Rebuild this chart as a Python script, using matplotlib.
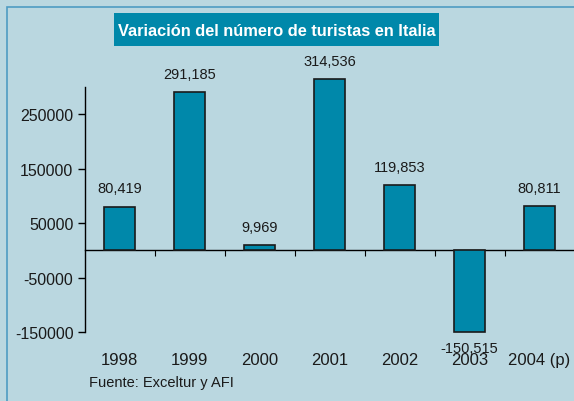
import numpy as np
import matplotlib.pyplot as plt
from matplotlib.patches import Rectangle

# Datos: variación anual del número de turistas
years = ['1998', '1999', '2000', '2001', '2002', '2003', '2004 (p)']
variation = [80419, 291185, 9969, 314536, 119853, -150515, 80811]
value_labels = ['80,419', '291,185', '9,969', '314,536', '119,853', '-150,515', '80,811']
yticks = [250000, 150000, 50000, -50000, -150000]

bg = '#BAD7E0'
bar_color = '#0088AA'

plt.rcParams['font.family'] = ['Liberation Sans', 'DejaVu Sans']

fig = plt.figure(figsize=(5.74, 4.02), dpi=100, facecolor=bg)
fig.patches.append(Rectangle((7 / 574, -0.1), 1.2, 1 - 8 / 402 + 0.1,
                             transform=fig.transFigure, fill=False,
                             edgecolor='#4F9CC2', linewidth=1.2))

ax = fig.add_axes([84.5 / 574, 1 - 333 / 402, 490 / 574, (333 - 88) / 402])
ax.set_facecolor('none')

x = np.arange(len(years))
ax.bar(x, variation, width=0.43, color=bar_color, edgecolor='#1a1a1a',
       linewidth=1.2, clip_on=False, zorder=3)

for xi, v, lab in zip(x, variation, value_labels):
    if v >= 0:
        ax.annotate(lab, (xi, v), xytext=(0, 8), textcoords='offset points',
                    ha='center', va='bottom', fontsize=10.5, color='#1a1a1a',
                    annotation_clip=False)
    else:
        ax.annotate(lab, (xi, v), xytext=(0, -6), textcoords='offset points',
                    ha='center', va='top', fontsize=10.5, color='#1a1a1a',
                    annotation_clip=False)

ax.set_xlim(-0.5, len(years) - 0.5)
ax.set_ylim(-150000, 300000)

for s in ['top', 'right']:
    ax.spines[s].set_visible(False)
ax.spines['left'].set_linewidth(1)
ax.spines['bottom'].set_position(('data', 0))
ax.spines['bottom'].set_linewidth(1)

ax.set_yticks(yticks)
ax.set_yticklabels([str(t) for t in yticks], fontsize=11.5, color='#1a1a1a')
ax.tick_params(axis='y', direction='out', length=5, width=1, pad=3)

# ticks between categories on the zero line
ax.set_xticks(x[:-1] + 0.5)
ax.set_xticklabels([])
ax.tick_params(axis='x', direction='out', length=4, width=0.8)

for xi, lab in zip(x, years):
    ax.text(xi, -0.112, lab, transform=ax.get_xaxis_transform(),
            ha='center', va='center', fontsize=12, color='#1a1a1a')

fig.text(89 / 574, 1 - 383 / 402, 'Fuente: Exceltur y AFI', ha='left',
         va='center', fontsize=10.5, color='#1a1a1a')

# title box
fig.patches.append(Rectangle((114 / 574, 1 - 47 / 402), 325 / 574, 33 / 402,
                             transform=fig.transFigure, facecolor=bar_color,
                             edgecolor='none'))
fig.text(276.5 / 574, 1 - 31 / 402, 'Variación del número de turistas en Italia',
         ha='center', va='center', fontsize=11.8, fontweight='bold', color='white')

fig.savefig('out.png', dpi=100, facecolor=bg)
